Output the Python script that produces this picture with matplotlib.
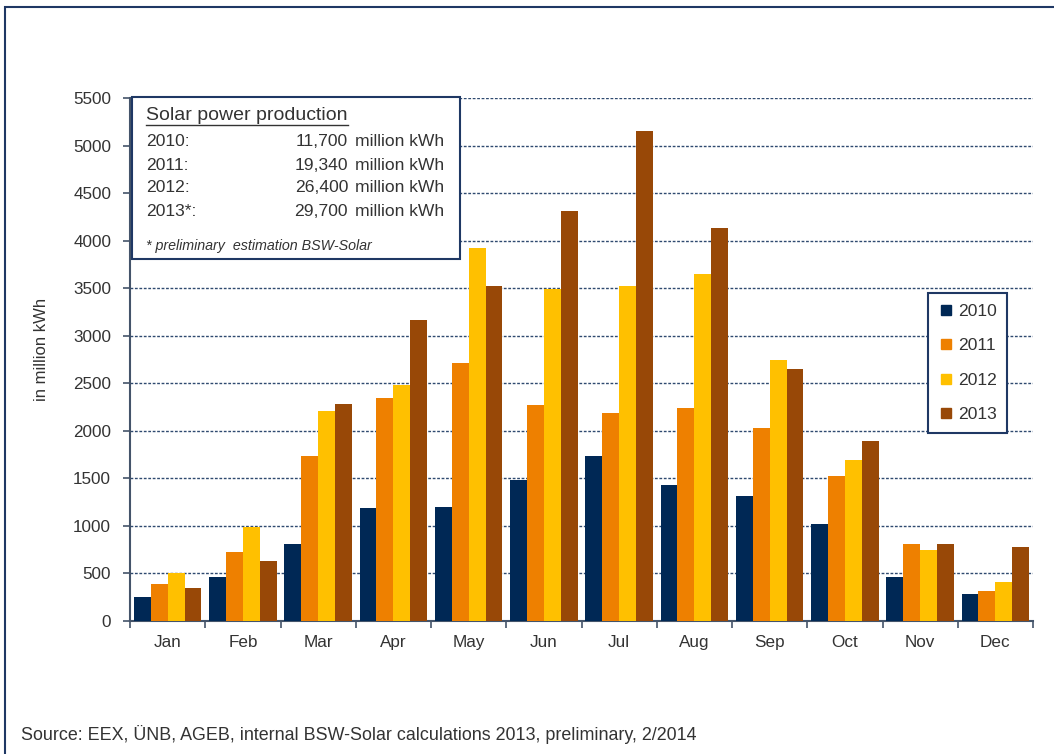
import matplotlib
matplotlib.use('Agg')
import matplotlib.pyplot as plt
import numpy as np
from matplotlib.lines import Line2D
from matplotlib.patches import Rectangle

plt.rcParams['font.family'] = ['Liberation Sans', 'DejaVu Sans']

# monthly solar power production in Germany, million kWh
months = ['Jan', 'Feb', 'Mar', 'Apr', 'May', 'Jun',
          'Jul', 'Aug', 'Sep', 'Oct', 'Nov', 'Dec']
years = ['2010', '2011', '2012', '2013']
prod_2010 = [250, 460, 815, 1185, 1195, 1480, 1735, 1425, 1315, 1020, 465, 280]
prod_2011 = [390, 730, 1735, 2340, 2710, 2270, 2190, 2235, 2025, 1525, 805, 320]
prod_2012 = [500, 990, 2205, 2485, 3920, 3495, 3520, 3650, 2740, 1695, 745, 410]
prod_2013 = [345, 630, 2285, 3170, 3520, 4315, 5150, 4135, 2645, 1895, 805, 780]
colors = ['#002855', '#EE8000', '#FFC000', '#984807']

# yearly totals for the info box
total_labels = ['2010:', '2011:', '2012:', '2013*:']
total_values = ['11,700', '19,340', '26,400', '29,700']

W, H = 1054, 754
txt = '#333333'
navy = '#1F3864'


def fx(px):
    return px / W


def fy(py):
    return 1 - py / H


fig = plt.figure(figsize=(W / 100, H / 100), dpi=100)
ax = fig.add_axes([fx(130), fy(621), fx(1033) - fx(130), fy(98) - fy(621)])

x = np.arange(len(months))
bw = 0.225
series = [prod_2010, prod_2011, prod_2012, prod_2013]
for i, (vals, c) in enumerate(zip(series, colors)):
    ax.bar(x + (i - 1.5) * bw, vals, width=bw, color=c, linewidth=0, zorder=3)

ax.set_xlim(-0.5, 11.5)
ax.set_ylim(0, 5500)
ax.set_yticks(np.arange(0, 5501, 500))
ax.yaxis.grid(True, color='#2F4A70', linestyle=(0, (2, 1.2)), linewidth=1.0, zorder=1)
ax.set_axisbelow(True)

ax.set_xticks(np.arange(-0.5, 12, 1))
ax.set_xticklabels([])
ax.set_xticks(x, minor=True)
ax.set_xticklabels(months, minor=True)
ax.tick_params(axis='x', which='major', direction='out', length=5, width=1.2, color='#44546A')
ax.tick_params(axis='x', which='minor', length=0, pad=10, labelsize=12.3, labelcolor=txt)
ax.tick_params(axis='y', direction='out', length=5, width=1.2, color='#44546A',
               pad=8.5, labelsize=12.3, labelcolor=txt)

for s in ['top', 'right']:
    ax.spines[s].set_visible(False)
for s in ['left', 'bottom']:
    ax.spines[s].set_color('#44546A')
    ax.spines[s].set_linewidth(1.5)

fig.text(fx(42), fy(349), 'in million kWh', rotation=90, ha='center', va='center',
         fontsize=12, color=txt)

# outer frame (only left and top edges visible)
fig.patches.append(Rectangle((fx(5), fy(7) - 1.2), 1.2, 1.2, transform=fig.transFigure,
                             fill=False, edgecolor=navy, linewidth=1.5))

# info box
box = Rectangle((fx(132), fy(259)), fx(460) - fx(132), fy(97) - fy(259),
                transform=fig.transFigure, facecolor='white', edgecolor=navy,
                linewidth=1.5, zorder=10, clip_on=False)
ax.add_patch(box)
title = ax.text(fx(146), fy(116), 'Solar power production', transform=fig.transFigure,
                ha='left', va='center', fontsize=14, color=txt, zorder=11)
row_y = [142, 165, 188, 212]
for lab, val, yy in zip(total_labels, total_values, row_y):
    ax.text(fx(146), fy(yy), lab, transform=fig.transFigure, ha='left', va='center',
            fontsize=12.6, color=txt, zorder=11)
    ax.text(fx(348), fy(yy), val, transform=fig.transFigure, ha='right', va='center',
            fontsize=12.6, color=txt, zorder=11)
    ax.text(fx(355), fy(yy), 'million kWh', transform=fig.transFigure, ha='left',
            va='center', fontsize=12.6, color=txt, zorder=11)
ax.text(fx(146), fy(246), '* preliminary  estimation BSW-Solar', transform=fig.transFigure,
        ha='left', va='center', fontsize=10.3, style='italic', color=txt, zorder=11)

# underline under the box title
fig.canvas.draw()
bb = title.get_window_extent()
ax.add_line(Line2D([fx(bb.x0), fx(bb.x1)], [fy(125), fy(125)], transform=fig.transFigure,
                   color=txt, linewidth=1.0, zorder=11, clip_on=False))

# legend
handles = [Line2D([], [], marker='s', linestyle='none', markersize=6.5,
                  markerfacecolor=c, markeredgecolor=c) for c in colors]
leg = ax.legend(handles, years, loc='upper left', bbox_to_anchor=(fx(928), fy(293)),
                bbox_transform=fig.transFigure, frameon=True, fancybox=False,
                edgecolor=navy, framealpha=1, fontsize=12.6, handlelength=0.8,
                handletextpad=0.3, labelspacing=1.1, borderpad=0.6, borderaxespad=0)
leg.get_frame().set_linewidth(1.5)
for t in leg.get_texts():
    t.set_color(txt)
leg.set_zorder(12)

fig.text(fx(21), fy(734), 'Source: EEX, \u00dcNB, AGEB, internal BSW-Solar calculations 2013, '
         'preliminary, 2/2014', ha='left', va='center', fontsize=12.9, color=txt)

fig.savefig('out.png', dpi=100)
